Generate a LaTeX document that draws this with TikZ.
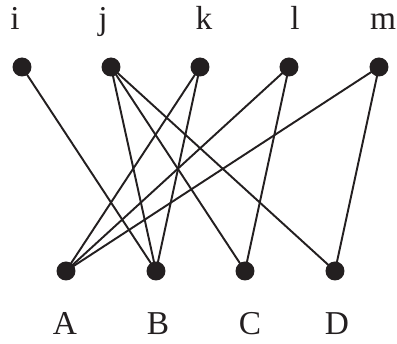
\documentclass[tikz,border=0pt]{standalone}
\usepackage{fontspec}
\setmainfont{Liberation Serif}
\usetikzlibrary{positioning}
\definecolor{ink}{HTML}{231F20}

\begin{document}
\begin{tikzpicture}[x=0.02cm, y=-0.02cm,
	dot/.style={circle, fill=ink, inner sep=0pt, minimum size=0.38cm},
	edge/.style={draw=ink, line width=1.1pt},
	lbl/.style={anchor=base, text=ink, font=\fontsize{19}{22}\selectfont}]
	\useasboundingbox (0,0) rectangle (397,344);
	% ---- top row ----
	\foreach \n/\x/\t in {i/22/15, j/111/103, k/200/204, l/289/295, m/379/383}{
		\node[dot] (\n) at (\x,67) {};
		\node[lbl] (lbl-\n) at (\t,30) {\n};
	}
	% ---- bottom row ----
	\foreach \n/\x/\t in {A/66/65, B/156/158, C/245/250, D/335/337}{
		\node[dot] (\n) at (\x,271) {};
		\node[lbl] (lbl-\n) at (\t,335) {\n};
	}
	% ---- edges ----
	\foreach \a/\b in {i/B, j/B, j/C, j/D, k/A, k/B, l/A, l/C, m/A, m/D}{
		\draw[edge] (\a.center) -- (\b.center);
	}
\end{tikzpicture}
\end{document}
